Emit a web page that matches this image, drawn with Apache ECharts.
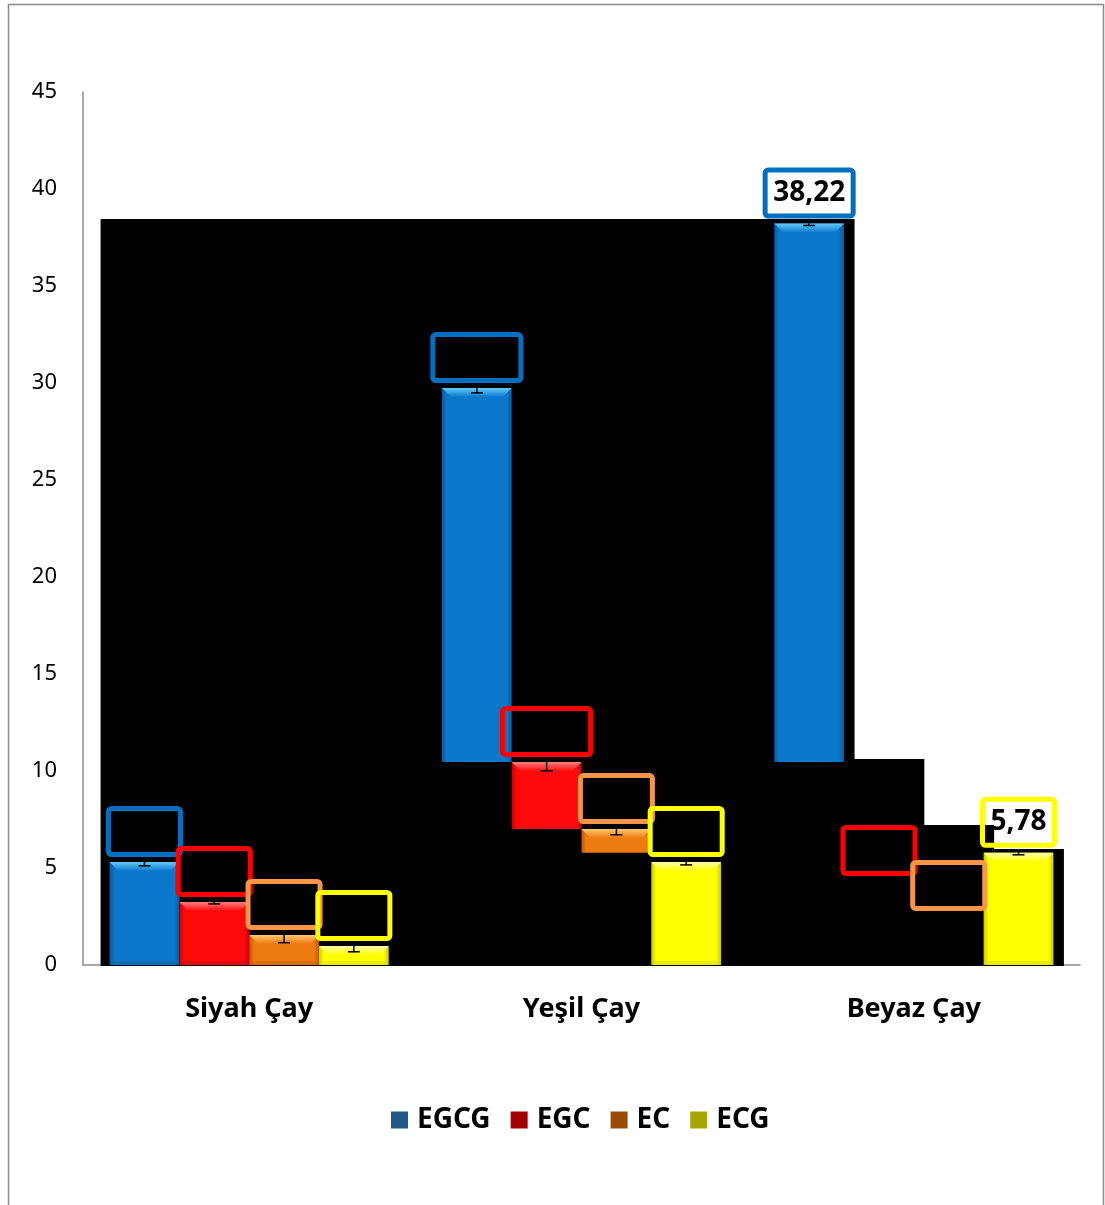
<!DOCTYPE html>
<html><head><meta charset="utf-8">
<script src="https://cdn.jsdelivr.net/npm/echarts@6/dist/echarts.min.js"></script>
<style>html,body{margin:0;padding:0;background:#fff}#c{width:1105px;height:1205px}</style>
</head><body><div id="c"></div>
<script>
// ---- data ----
const categories = ['Siyah Çay', 'Yeşil Çay', 'Beyaz Çay'];
const seriesNames = ['EGCG', 'EGC', 'EC', 'ECG'];
const egcg = [5.31, 29.74, 38.22];
const egc  = [3.25, 10.46, 4.33];
const ec   = [1.55, 7.01, 2.53];
const ecg  = [0.98, 5.31, 5.78];
const egcgErr = [0.2, 0.25, 0.1];
const egcErr  = [0.1, 0.45, 0.2];
const ecErr   = [0.4, 0.3, 0.2];
const ecgErr  = [0.3, 0.15, 0.1];
// value below which each bar is blacked out in the picture
const egcgFloor = [0, 10.46, 10.46];
const egcFloor  = [0, 7.01, 4.33];
const ecFloor   = [0, 5.78, 2.53];
const ecgFloor  = [0, 0, 0];
// black backdrop step heights (value units)
const maskTops = [38.45, 10.62, 7.22, 5.98];
const yTicks = {min: 0, max: 45, interval: 5};

// ---- styles ----
const FONT = '"Noto Sans", "DejaVu Sans", sans-serif';
const BAR_RATIO = 0.21;
const pal = [
  {main: '#0B78CC', light: '#62CBFC', dark: '#06599A', border: '#0070C0', legend: '#1F5A8A'},
  {main: '#FF0A0A', light: '#FF8080', dark: '#C40000', border: '#FF0000', legend: '#A30000'},
  {main: '#EE7A12', light: '#FFC96E', dark: '#BE5800', border: '#F79646', legend: '#9A4A06'},
  {main: '#FFFF00', light: '#FFFFB0', dark: '#C9C900', border: '#FFFF00', legend: '#A6A600'}
];
const values = [egcg, egc, ec, ecg];
const errs = [egcgErr, egcErr, ecErr, ecgErr];
const floors = [egcgFloor, egcFloor, ecFloor, ecgFloor];

function slotX(api, cat, si) {
  const bw = api.size([1, 0])[0] * BAR_RATIO;
  const cx = api.coord([cat, 0])[0];
  return {x: cx - 2 * bw + si * bw, bw: bw};
}

function maskRender(params, api) {
  const y0 = api.coord([0, 0])[1];
  const s0 = slotX(api, 0, 0);
  const children = [];
  let left = s0.x - 9;
  for (let k = 0; k < maskTops.length; k++) {
    const s = slotX(api, 2, k);
    const right = s.x + s.bw + 9;
    const top = api.coord([2, maskTops[k]])[1];
    children.push({type: 'rect', shape: {x: left, y: top, width: right - left + 1.5, height: y0 - top + 1},
      style: {fill: '#000'}});
    left = right - (k === 2 ? 7 : 0);
  }
  return {type: 'group', children: children};
}

function barRender(si) {
  const c = pal[si];
  return function (params, api) {
    const cat = api.value(0), v = api.value(1), fl = api.value(2), err = api.value(3);
    const s = slotX(api, cat, si);
    const x = s.x, bw = s.bw;
    const yTop = api.coord([cat, v])[1];
    const yBot = api.coord([cat, fl])[1];
    const children = [];
    const h = yBot - yTop;
    if (h > 0.5) {
      children.push({type: 'rect', shape: {x: x, y: yTop, width: bw, height: h},
        style: {fill: new echarts.graphic.LinearGradient(0, 0, 1, 0, [
          {offset: 0, color: c.dark}, {offset: 0.07, color: c.main},
          {offset: 0.93, color: c.main}, {offset: 1, color: c.dark}])}});
      const bv = Math.min(9, h / 2);
      children.push({type: 'polygon', shape: {points: [[x, yTop], [x + bw, yTop], [x + bw - bv, yTop + bv], [x + bv, yTop + bv]]},
        style: {fill: new echarts.graphic.LinearGradient(0, 0, 0, 1, [
          {offset: 0, color: c.light}, {offset: 1, color: c.main}])}});
      if (fl === 0) {
        children.push({type: 'polygon', shape: {points: [[x, yBot], [x + bw, yBot], [x + bw - 4, yBot - 4], [x + 4, yBot - 4]]},
          style: {fill: c.dark, opacity: 0.35}});
      }
    }
    // error bar
    const cx = x + bw / 2;
    const ya = api.coord([cat, v + err])[1], yb = api.coord([cat, v - err])[1];
    const lineStyle = {stroke: '#000', lineWidth: 1.5};
    children.push({type: 'line', shape: {x1: cx, y1: ya, x2: cx, y2: yb}, style: lineStyle});
    children.push({type: 'line', shape: {x1: cx - 6, y1: ya, x2: cx + 6, y2: ya}, style: lineStyle});
    children.push({type: 'line', shape: {x1: cx - 6, y1: yb, x2: cx + 6, y2: yb}, style: lineStyle});
    return {type: 'group', children: children};
  };
}

function labelRender(params, api) {
  const cat = api.value(0), si = api.value(1), v = api.value(2);
  const s = slotX(api, cat, si);
  const yTop = api.coord([cat, v])[1];
  return {type: 'text', x: s.x + s.bw / 2, y: yTop - 7.5,
    style: {text: v.toFixed(2).replace('.', ','), align: 'center', verticalAlign: 'bottom',
      fill: '#000', font: 'bold 28px ' + FONT, lineHeight: 30,
      borderColor: pal[si].border, borderWidth: 5, borderRadius: 3, padding: [8, 8]}};
}

const series = [{
  type: 'custom', name: 'mask', z: 1, silent: true, renderItem: maskRender, data: [[0, 0]]
}];
for (let si = 0; si < 4; si++) {
  series.push({
    type: 'custom', name: seriesNames[si], z: 2, itemStyle: {color: pal[si].legend},
    renderItem: barRender(si),
    data: categories.map((_, ci) => [ci, values[si][ci], floors[si][ci], errs[si][ci]])
  });
}
const labelData = [];
for (let si = 0; si < 4; si++) for (let ci = 0; ci < 3; ci++) labelData.push([ci, si, values[si][ci]]);
series.push({type: 'custom', name: 'labels', z: 3, silent: true, renderItem: labelRender, data: labelData});

const chart = echarts.init(document.getElementById('c'), null, {renderer: 'canvas'});
chart.setOption({
  animation: false,
  backgroundColor: '#fff',
  graphic: [{type: 'rect', shape: {x: 8.5, y: 4.5, width: 1095, height: 1260},
    style: {fill: 'none', stroke: '#8c8c8c', lineWidth: 1.5}, silent: true, z: 0}],
  grid: {left: 83, right: 25, top: 92, bottom: 240, containLabel: false},
  legend: {
    data: seriesNames.map((n, i) => ({name: n, icon: 'rect', itemStyle: {color: pal[i].legend}})),
    left: 386, top: 1101, itemWidth: 17, itemHeight: 17, itemGap: 20,
    textStyle: {fontFamily: FONT, fontWeight: 'bold', fontSize: 28, color: '#000', padding: [0, 0, 0, 4]}
  },
  xAxis: {
    type: 'category', data: categories,
    axisLine: {lineStyle: {color: '#8c8c8c', width: 1.5}}, axisTick: {show: false},
    axisLabel: {fontFamily: FONT, fontWeight: 'bold', fontSize: 27, color: '#000', margin: 31}
  },
  yAxis: {
    type: 'value', min: yTicks.min, max: yTicks.max, interval: yTicks.interval,
    splitLine: {show: false},
    axisLine: {show: true, lineStyle: {color: '#8c8c8c', width: 1.5}}, axisTick: {show: false},
    axisLabel: {fontFamily: FONT, fontSize: 22, color: '#000', margin: 26}
  },
  series: series
});
</script></body></html>
